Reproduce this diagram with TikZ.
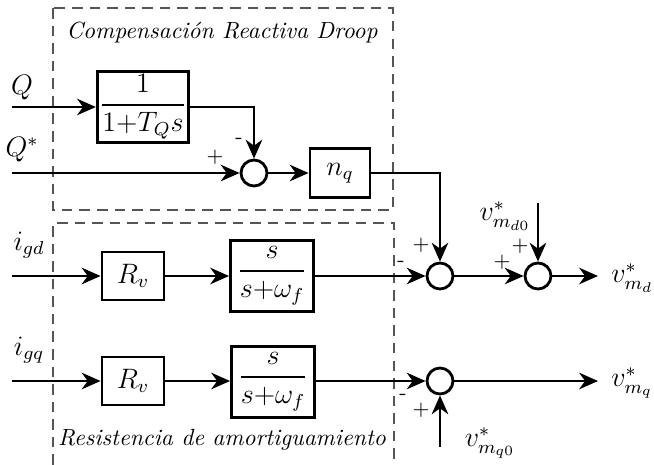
\documentclass[tikz,border=0pt]{standalone}
\usepackage{amsmath,amssymb}
\usepackage{tikz}
\usetikzlibrary{positioning,calc,arrows.meta}
\definecolor{DroopGray}{HTML}{555555}

\begin{document}
\begin{tikzpicture}[x=0.015cm, y=-0.015cm,
  blk/.style={draw, line width=1.2pt, inner sep=1pt, font=\large},
  tfbox/.style={blk, minimum width=1.245cm, minimum height=1.065cm},
  gainbox/.style={blk, minimum width=0.93cm, minimum height=0.72cm},
  sumnode/.style={circle, draw, line width=1.2pt, minimum size=0.39cm, inner sep=0pt},
  sig/.style={line width=1.2pt, -{Stealth[length=8pt, width=7pt, inset=2.5pt]}},
  zone/.style={DroopGray, line width=0.7pt, dash pattern=on 4.5pt off 3pt},
  lab/.style={font=\large},
  sgn/.style={font=\small, inner sep=0pt}]
  \useasboundingbox (0,0) rectangle (654,465);

  %% Dashed zones
  \draw[zone] (53,8) rectangle (393,210);
  \draw[zone] (53,465) -- (53,223) -- (394,223) -- (394,465);
  \node[font=\itshape] (droop) at (222,33) {Compensación Reactiva Droop};
  \node[font=\itshape] (damp) at (222,440) {Resistencia de amortiguamiento};

  %% Reactive power droop
  \coordinate (qin) at (12,107);
  \coordinate (qrefin) at (12,173);
  \node[tfbox] (lpf) at (143,107) {$\dfrac{1}{1{+}T_Q s}$};
  \node[sumnode] (sumq) at (254,173) {};
  \node[gainbox, minimum width=0.9cm, minimum height=0.735cm] (nq) at (340,173) {$n_q$};
  \node[lab] (qlab) at (22,88) {$Q$};
  \node[lab] (qreflab) at (22,150) {$Q^{*}$};
  \draw[sig] (qin) -- (lpf);
  \draw[sig] (qrefin) -- (sumq);
  \draw[sig] (lpf.east) -| (sumq.north);
  \draw[sig] (sumq) -- (nq);
  \node[sgn] at (239,141) {-};
  \node[sgn] at (215,157) {+};

  %% Virtual resistance, d axis
  \coordinate (idin) at (12,276);
  \node[lab] (idlab) at (29,245) {$i_{gd}$};
  \node[gainbox] (rvd) at (133,276) {$R_v$};
  \node[tfbox] (hpfd) at (272,276) {$\dfrac{s}{s{+}\omega_f}$};
  \node[sumnode] (sumd) at (440,276) {};
  \node[sumnode] (sumd0) at (538,276) {};
  \coordinate (vd0in) at (538,203);
  \coordinate (vdout) at (598,276);
  \node[lab, anchor=west] (vdlab) at (603,278) {$v^{*}_{m_d}$};
  \node[lab] (vd0lab) at (505,216) {$v^{*}_{m_{d0}}$};
  \draw[sig] (idin) -- (rvd);
  \draw[sig] (rvd) -- (hpfd);
  \draw[sig] (hpfd) -- (sumd);
  \draw[sig] (nq.east) -| (sumd.north);
  \draw[sig] (sumd) -- (sumd0);
  \draw[sig] (vd0in) -- (sumd0.north);
  \draw[sig] (sumd0) -- (vdout);
  \node[sgn] at (401,264) {-};
  \node[sgn] at (421,245) {+};
  \node[sgn] at (502,262) {+};
  \node[sgn] at (520,246) {+};

  %% Virtual resistance, q axis
  \coordinate (iqin) at (12,381);
  \node[lab] (iqlab) at (29,350) {$i_{gq}$};
  \node[gainbox] (rvq) at (133,381) {$R_v$};
  \node[tfbox] (hpfq) at (273,382) {$\dfrac{s}{s{+}\omega_f}$};
  \node[sumnode] (sumq0) at (440,381) {};
  \coordinate (vq0in) at (440,447);
  \coordinate (vqout) at (598,381);
  \node[lab, anchor=west] (vqlab) at (603,383) {$v^{*}_{m_q}$};
  \node[lab] (vq0lab) at (490,443) {$v^{*}_{m_{q0}}$};
  \draw[sig] (iqin) -- (rvq);
  \draw[sig] (rvq) -- (rvq -| hpfq.west);
  \draw[sig] (hpfq.east |- sumq0) -- (sumq0);
  \draw[sig] (vq0in) -- (sumq0.south);
  \draw[sig] (sumq0) -- (vqout);
  \node[sgn] at (403,397) {-};
  \node[sgn] at (421,410) {+};
\end{tikzpicture}
\end{document}
